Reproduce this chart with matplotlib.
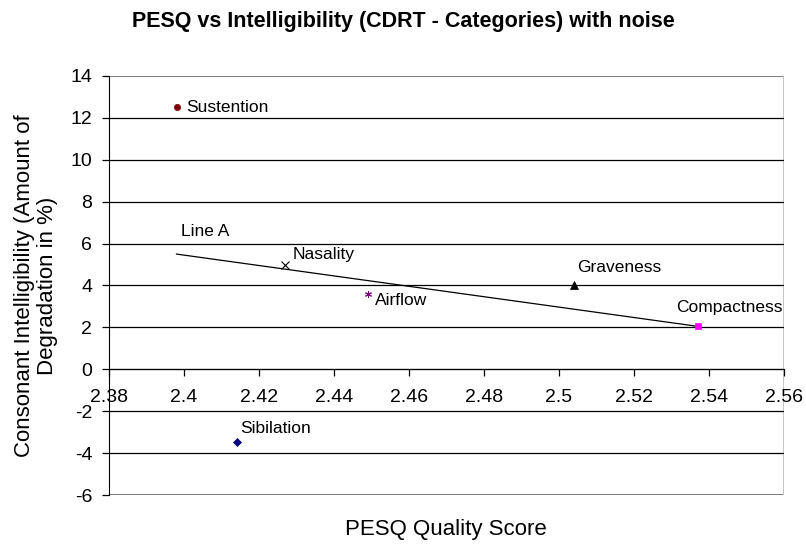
import numpy as np
import matplotlib
matplotlib.use("Agg")
import matplotlib.pyplot as plt

plt.rcParams['font.family'] = ['Liberation Sans', 'DejaVu Sans']

# data
categories = ['Sustention', 'Nasality', 'Airflow', 'Graveness', 'Compactness', 'Sibilation']
pesq = [2.398, 2.427, 2.449, 2.504, 2.537, 2.414]
degradation = [12.5, 5.0, 3.6, 4.0, 2.05, -3.45]

line_a_x = [2.398, 2.537]
line_a_y = [5.5, 2.05]

xticks = [2.38, 2.4, 2.42, 2.44, 2.46, 2.48, 2.5, 2.52, 2.54, 2.56]
xtick_labels = ['2.38', '2.4', '2.42', '2.44', '2.46', '2.48', '2.5', '2.52', '2.54', '2.56']
yticks = [-6, -4, -2, 0, 2, 4, 6, 8, 10, 12, 14]
ytick_labels = ['-6', '-4', '-2', '0', '2', '4', '6', '8', '10', '12', '14']

# styles (marker, size, colour, edge width) and label offsets in points
styles = [('o', 4.5, '#800000', 0.5), ('x', 5.5, 'black', 0.8), ((6, 2, 0), 5, '#800080', 0.7),
          ('^', 6, 'black', 0.5), ('s', 5, '#FF00FF', 0.5), ('D', 4.5, '#000080', 0.5)]
offsets = [(7, 0), (5, 7), (5, -5), (2, 13), (-15.5, 13.7), (2.7, 9.6)]

fig = plt.figure(figsize=(8.06, 5.45), dpi=100)
ax = fig.add_axes([109/806, 1-495/545, (784-109)/806, (495-76)/545])

for y in yticks[1:-1]:
    ax.axhline(y, color='black', lw=0.9, zorder=1)

ax.plot(line_a_x, line_a_y, color='black', lw=0.9, zorder=2)
ax.annotate('Line A', (line_a_x[0], line_a_y[0]), xytext=(3, 16), textcoords='offset points',
            ha='left', va='center', fontsize=12.5)

for i, name in enumerate(categories):
    m, ms, c, mw = styles[i]
    ax.plot(pesq[i], degradation[i], marker=m, ms=ms, color=c, mec=c, mew=mw, ls='none', zorder=3)
    ax.annotate(name, (pesq[i], degradation[i]), xytext=offsets[i], textcoords='offset points',
                ha='left', va='center', fontsize=12.5)

ax.set_xlim(2.38, 2.56)
ax.set_ylim(-6, 14)
ax.set_xticks(xticks)
ax.set_xticklabels(xtick_labels)
ax.set_yticks(yticks)
ax.set_yticklabels(ytick_labels)

ax.spines['bottom'].set_position(('data', 0))
ax.spines['bottom'].set_color('black')
ax.spines['left'].set_color('black')
ax.spines['top'].set_visible(False)
ax.spines['right'].set_visible(False)
ax.axhline(14, color='#808080', lw=1.5, zorder=0)
ax.axhline(-6, color='#808080', lw=1.5, zorder=0)
ax.axvline(2.56, color='#c0c0c0', lw=2, zorder=0)

ax.tick_params(axis='x', direction='out', length=5, width=0.9, pad=9, labelsize=14)
ax.tick_params(axis='y', direction='out', length=5, width=0.9, pad=7, labelsize=14)

fig.text(446/806, 1 - 530/545, 'PESQ Quality Score', ha='center', va='center', fontsize=16)
fig.text(36/806, 1 - 286/545, 'Consonant Intelligibility (Amount of\nDegradation in %)',
         ha='center', va='center', rotation=90, fontsize=16, linespacing=1.1)

fig.text(0.5, 1 - 21/545, 'PESQ vs Intelligibility (CDRT - Categories) with noise',
         ha='center', va='center', fontsize=15.5, fontweight='bold')

fig.savefig('out.png', dpi=100)
